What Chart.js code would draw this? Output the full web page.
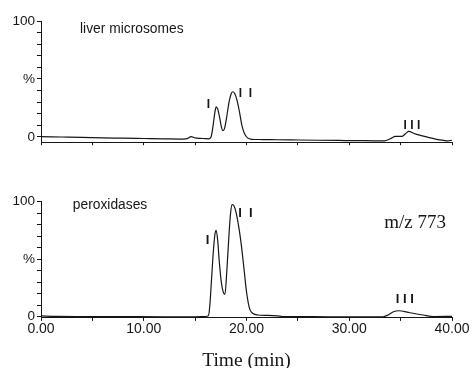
<!DOCTYPE html>
<html>
<head>
<meta charset="utf-8">
<script src="https://cdn.jsdelivr.net/npm/chart.js@4"></script>
<style>
  body { margin: 0; background: #fff; }
  #wrap { position: relative; width: 475px; height: 368px; }
  canvas { position: absolute; left: 0; }
</style>
</head>
<body>
<div id="wrap">
  <canvas id="liverChart" width="475" height="165" style="top:0px"></canvas>
  <canvas id="peroxChart" width="475" height="203" style="top:165px"></canvas>
</div>
<script>
// liver microsomes trace (min, %)
const liverTime = [0, 2, 4, 6, 8, 10, 12, 13.8, 14.3, 14.6, 15.0, 15.5, 16.0, 16.3, 16.55, 16.75, 16.9, 17.05, 17.2, 17.4, 17.55, 17.7, 17.85, 18.05, 18.3, 18.5, 18.65, 18.85, 19.1, 19.35, 19.55, 19.8, 20.1, 20.5, 21.5, 23, 25, 27, 29, 31, 32.5, 33.4, 34.0, 34.5, 35.1, 35.5, 35.8, 36.3, 37.0, 37.8, 38.5, 39.2, 39.6, 40];
const liverSignal = [0.3, 0, -0.3, -0.8, -1.0, -1.3, -1.6, -1.8, -1.2, 0.3, -0.8, -1.2, -1.4, -1.6, 0, 10, 20, 26, 24, 16, 9, 5.5, 7, 16, 30, 37, 39, 37.5, 31, 20, 10, 3, -0.8, -2, -2.2, -2.4, -2.6, -2.8, -3.0, -3.2, -3.3, -3.3, -1.5, 0.5, 0.5, 3, 4.8, 3, 1.2, -0.5, -2, -3, -3.4, -2.8];

// peroxidases trace (min, %)
const peroxTime = [0, 1.5, 4, 8, 12, 15, 16.0, 16.3, 16.45, 16.6, 16.8, 16.95, 17.05, 17.2, 17.35, 17.55, 17.75, 17.9, 18.1, 18.3, 18.45, 18.6, 18.8, 19.0, 19.3, 19.5, 19.8, 20.0, 20.3, 20.6, 21.1, 22, 23, 23.5, 25, 28, 31, 33.3, 33.7, 34.3, 34.8, 35.9, 37.2, 38.2, 40];
const peroxSignal = [0.8, 0.3, 0.2, 0.1, 0, 0, 0.2, 1, 12, 33, 60, 73, 75, 66, 48, 30, 21, 19.5, 42, 72, 90, 97.5, 96, 90, 75, 62, 38, 21.7, 7, 3, 1.5, 1.2, 0.8, 0.2, 0.2, 0, 0, 0, 1.2, 4.3, 5.2, 3.5, 1.5, 0.2, 0.3];

const timeTicks = [0, 5, 10, 15, 20, 25, 30, 35, 40];
const timeLabelled = [0, 10, 20, 30, 40];
const percentTicks = [0, 10, 20, 30, 40, 50, 60, 70, 80, 90, 100];
const percentLabelValues = [0, 50, 100];
const percentLabelText = ["0", "%", "100"];

const ink = "#161616";

const textMarks = {
  id: "textMarks",
  afterDatasetsDraw(chart, args, opts) {
    const { ctx } = chart;
    const x = chart.scales.x;
    const y = chart.scales.y;
    ctx.save();
    ctx.fillStyle = ink;
    ctx.textBaseline = "middle";
    opts.items.forEach((item) => {
      ctx.font = item.font;
      ctx.textAlign = item.align || "center";
      ctx.fillText(item.text, x.getPixelForValue(item.t), y.getPixelForValue(item.v));
    });
    ctx.restore();
  },
};

const toPoints = (xs, ys) => xs.map((t, i) => ({ x: t, y: ys[i] }));

const makeChart = (id, time, signal, cfg) => {
  return new Chart(document.getElementById(id), {
    type: "line",
    data: {
      datasets: [
        {
          data: toPoints(time, signal),
          borderColor: ink,
          borderWidth: 1.2,
          pointRadius: 0,
          cubicInterpolationMode: "monotone",
          clip: false,
        },
      ],
    },
    options: {
      responsive: false,
      animation: false,
      events: [],
      layout: { padding: { top: cfg.padTop, right: 23, left: 0, bottom: 0 } },
      plugins: {
        legend: { display: false },
        tooltip: { enabled: false },
        textMarks: { items: cfg.marks },
      },
      scales: {
        x: {
          type: "linear",
          min: 0,
          max: 40,
          afterBuildTicks: (scale) => {
            scale.ticks = timeTicks.map((v) => ({ value: v }));
          },
          afterFit: (scale) => {
            scale.height = cfg.xHeight;
          },
          border: { color: ink, width: 1 },
          grid: { drawOnChartArea: false, tickLength: 3, color: ink },
          ticks: {
            display: cfg.showTimeLabels,
            padding: 0,
            maxRotation: 0,
            autoSkip: false,
            color: ink,
            font: { family: "Liberation Sans", size: 14 },
            callback: (v) => (timeLabelled.includes(v) ? v.toFixed(2) : ""),
          },
          title: {
            display: cfg.showTimeLabels,
            text: "Time (min)",
            color: ink,
            font: { family: "Liberation Serif", size: 19.5, lineHeight: 1 },
            padding: { top: 0, bottom: -3 },
          },
        },
        y: {
          min: cfg.yMin,
          max: 100,
          afterBuildTicks: (scale) => {
            scale.ticks = percentTicks.map((v) => ({ value: v }));
          },
          afterFit: (scale) => {
            scale.width = 41;
          },
          border: { color: ink, width: 1 },
          grid: { drawOnChartArea: false, tickLength: 4, color: ink },
          ticks: {
            padding: 2,
            autoSkip: false,
            color: ink,
            font: { family: "Liberation Sans", size: 13.5 },
            callback: (v) => {
              const i = percentLabelValues.indexOf(v);
              return i >= 0 ? percentLabelText[i] : "";
            },
          },
        },
      },
    },
    plugins: [textMarks],
  });
};

const liverChart = makeChart("liverChart", liverTime, liverSignal, {
  padTop: 21,
  xHeight: 22.8,
  yMin: -4.5,
  showTimeLabels: false,
  marks: [
    { t: 3.8, v: 93, text: "liver microsomes", font: "13.8px Liberation Sans", align: "left" },
    { t: 16.3, v: 27.6, text: "I", font: "bold 12px Liberation Sans" },
    { t: 19.9, v: 37, text: "I  I", font: "bold 12px Liberation Sans" },
    { t: 36.1, v: 9.9, text: "I I I", font: "bold 12px Liberation Sans" },
  ],
});

const peroxChart = makeChart("peroxChart", peroxTime, peroxSignal, {
  padTop: 36.7,
  xHeight: 50.1,
  yMin: -1,
  showTimeLabels: true,
  marks: [
    { t: 3.1, v: 97, text: "peroxidases", font: "13.8px Liberation Sans", align: "left" },
    { t: 16.2, v: 66.7, text: "I", font: "bold 13px Liberation Sans" },
    { t: 19.9, v: 90, text: "I  I", font: "bold 13px Liberation Sans" },
    { t: 35.4, v: 15.4, text: "I I I", font: "bold 13px Liberation Sans" },
    { t: 36.4, v: 81.5, text: "m/z 773", font: "19px Liberation Serif" },
  ],
});
</script>
</body>
</html>
